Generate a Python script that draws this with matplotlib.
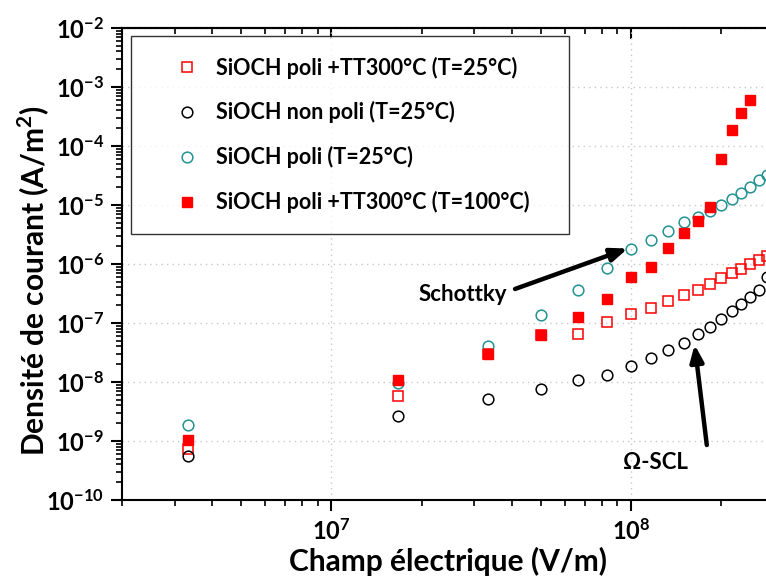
import matplotlib
matplotlib.use('Agg')
import matplotlib.pyplot as plt
from matplotlib.ticker import LogLocator, NullFormatter

plt.rcParams['font.family'] = ['Lato', 'DejaVu Sans']
plt.rcParams['font.weight'] = 'bold'
plt.rcParams['axes.labelweight'] = 'bold'

# ---- data ----
field = [3.33e6, 1.667e7, 3.333e7, 5.0e7, 6.667e7, 8.333e7, 1.0e8, 1.167e8, 1.333e8,
         1.5e8, 1.667e8, 1.833e8, 2.0e8, 2.167e8, 2.333e8, 2.5e8, 2.667e8, 2.833e8]
j_tt300_25 = [7.3e-10, 5.86e-9, 2.95e-8, 6.2e-8, 6.5e-8, 1.05e-7, 1.41e-7, 1.83e-7, 2.38e-7,
              2.98e-7, 3.62e-7, 4.58e-7, 5.73e-7, 6.95e-7, 8.2e-7, 9.9e-7, 1.16e-6, 1.39e-6]
j_nonpoli_25 = [5.57e-10, 2.69e-9, 5.15e-9, 7.6e-9, 1.08e-8, 1.33e-8, 1.87e-8, 2.55e-8, 3.42e-8,
                4.64e-8, 6.45e-8, 8.55e-8, 1.17e-7, 1.6e-7, 2.06e-7, 2.76e-7, 3.63e-7, 6.1e-7]
j_poli_25 = [1.85e-9, 9.44e-9, 4.07e-8, 1.35e-7, 3.62e-7, 8.65e-7, 1.83e-6, 2.55e-6, 3.67e-6,
             5.21e-6, 6.34e-6, 7.94e-6, 1.0e-5, 1.26e-5, 1.58e-5, 2.0e-5, 2.65e-5, 3.23e-5]
j_tt300_100 = [1.04e-9, 1.08e-8, 2.99e-8, 6.27e-8, 1.28e-7, 2.55e-7, 6.1e-7, 8.8e-7, 1.85e-6,
               3.4e-6, 5.42e-6, 9.14e-6, 6.0e-5, 1.87e-4, 3.66e-4, 6.0e-4]

labels = ['SiOCH poli +TT300°C (T=25°C)', 'SiOCH non poli (T=25°C)',
          'SiOCH poli (T=25°C)', 'SiOCH poli +TT300°C (T=100°C)']
xlabel = 'Champ électrique (V/m)'
ylabel = 'Densité de courant (A/m$^{\\mathdefault{2}}$)'

red = '#FF0000'
teal = '#239292'

fig = plt.figure(figsize=(7.66, 5.76), dpi=100)
ax = fig.add_axes([122 / 766, 76 / 576, (774 - 122) / 766, (500 - 28) / 576])

ms = 7.4
ax.plot(field, j_tt300_25, ls='none', marker='s', ms=ms, mfc='none', mec=red, mew=1.1,
        label=labels[0], clip_on=False)
ax.plot(field, j_nonpoli_25, ls='none', marker='o', ms=ms + 0.3, mfc='none', mec='black', mew=1.1,
        label=labels[1], clip_on=False)
ax.plot(field, j_poli_25, ls='none', marker='o', ms=ms + 0.3, mfc='none', mec=teal, mew=1.1,
        label=labels[2], clip_on=False)
ax.plot(field[:len(j_tt300_100)], j_tt300_100, ls='none', marker='s', ms=ms, mfc=red, mec=red,
        mew=1.0, label=labels[3], clip_on=False)

ax.set_xscale('log')
ax.set_yscale('log')
ax.set_xlim(2e6, 3e8)
ax.set_ylim(1e-10, 1e-2)

ax.xaxis.set_major_locator(LogLocator(base=10, numticks=20))
ax.xaxis.set_minor_locator(LogLocator(base=10, subs=range(2, 10), numticks=20))
ax.yaxis.set_major_locator(LogLocator(base=10, numticks=20))
ax.yaxis.set_minor_locator(LogLocator(base=10, subs=range(2, 10), numticks=20))
ax.xaxis.set_minor_formatter(NullFormatter())
ax.yaxis.set_minor_formatter(NullFormatter())

ax.grid(True, which='major', ls=(0, (1, 3)), color='#C8C8C8', lw=1.0)
ax.set_axisbelow(True)

for s in ['left', 'bottom', 'top', 'right']:
    ax.spines[s].set_linewidth(1.5)

ax.tick_params(axis='both', which='major', direction='out', length=8, width=1.5,
               labelsize=17, top=False, right=False)
ax.tick_params(axis='both', which='minor', direction='out', length=4, width=1.2,
               top=False, right=False)
ax.tick_params(axis='x', which='major', pad=5)
ax.tick_params(axis='y', which='major', pad=5)

sec = ax.secondary_xaxis('top')
sec.set_xscale('log')
sec.xaxis.set_major_locator(LogLocator(base=10, numticks=20))
sec.xaxis.set_minor_locator(LogLocator(base=10, subs=range(2, 10), numticks=20))
sec.tick_params(axis='x', which='major', direction='in', length=8, width=1.5, labeltop=False)
sec.tick_params(axis='x', which='minor', direction='in', length=4, width=1.2)
sec.spines['top'].set_linewidth(1.5)

ax.set_xlabel(xlabel, fontsize=21.5, labelpad=2)
ax.set_ylabel(ylabel, fontsize=21.5)
ax.yaxis.set_label_coords(-0.107, 0.464)

leg = ax.legend(loc='upper left', bbox_to_anchor=(0.0138, 0.983 - 0.405, 0.672, 0.405),
                mode='expand', borderaxespad=0,
                prop={'size': 15.5, 'weight': 'bold'}, frameon=True, fancybox=False,
                edgecolor='black', borderpad=0.95, handlelength=3.3, handletextpad=-0.3,
                labelspacing=1.06, markerscale=1.0)
leg.get_frame().set_linewidth(1.0)

# annotations
ax.annotate('', xy=(field[6] * 0.975, j_poli_25[6]), xytext=(4.1e7, 3.77e-7),
            arrowprops=dict(arrowstyle='-|>,head_length=1.0,head_width=0.4', lw=3.2, color='black',
                            shrinkA=0, shrinkB=0))
ax.text(2.75e7, 3.1e-7, 'Schottky', fontsize=16, ha='center', va='center')
ax.annotate('', xy=(1.63e8, 4.3e-8), xytext=(1.79e8, 8.55e-10),
            arrowprops=dict(arrowstyle='-|>,head_length=1.0,head_width=0.4', lw=3.2, color='black',
                            shrinkA=0, shrinkB=0))
ax.text(1.21e8, 4.4e-10, 'Ω-SCL', fontsize=16, ha='center', va='center')

fig.savefig('out.png', dpi=100)
